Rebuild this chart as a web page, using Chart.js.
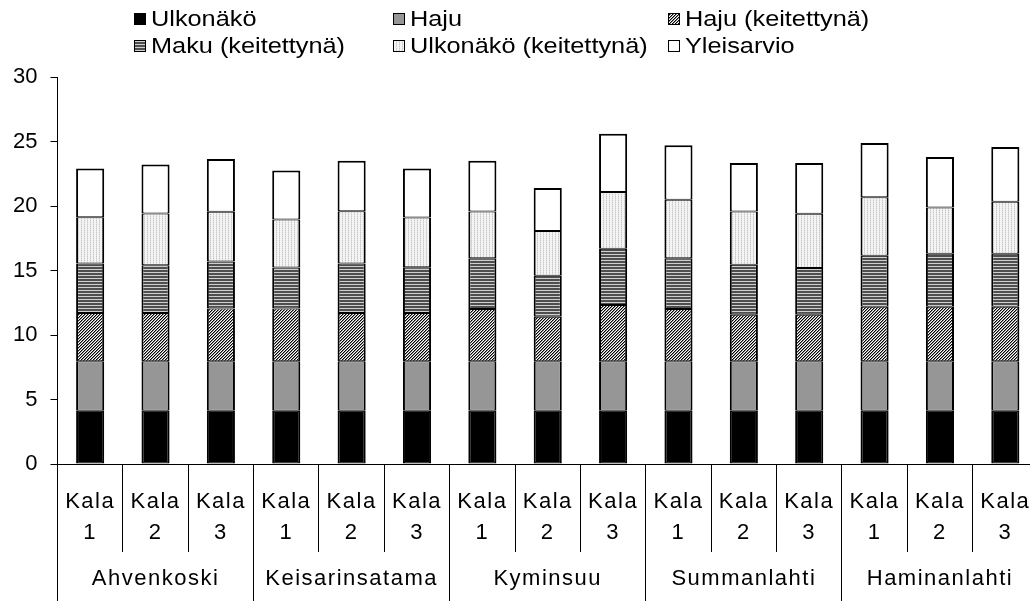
<!DOCTYPE html>
<html><head><meta charset="utf-8">
<script src="https://cdn.jsdelivr.net/npm/chart.js@4"></script>
<style>
html,body{margin:0;padding:0;overflow:hidden;background:#fff;width:1030px;height:601px}
#wrap{width:1040px;height:601px;}
</style></head><body><div id="wrap"><canvas id="c" width="1040" height="601"></canvas></div>
<script>
// ---- data ----
const groups = ['Ahvenkoski', 'Keisarinsatama', 'Kyminsuu', 'Summanlahti', 'Haminanlahti'];
const categories = [
  'Kala 1','Kala 2','Kala 3',
  'Kala 1','Kala 2','Kala 3',
  'Kala 1','Kala 2','Kala 3',
  'Kala 1','Kala 2','Kala 3',
  'Kala 1','Kala 2','Kala 3'
];
const seriesNames = ['Ulkonäkö', 'Haju', 'Haju (keitettynä)', 'Maku (keitettynä)', 'Ulkonäkö (keitettynä)', 'Yleisarvio'];
const ulkonako     = [4.13,4.13,4.13,4.13,4.13,4.13,4.13,4.13,4.13,4.13,4.13,4.13,4.13,4.13,4.13];
const haju         = [3.83,3.83,3.83,3.83,3.83,3.83,3.83,3.83,3.83,3.83,3.83,3.83,3.83,3.83,3.83];
const hajuKeit     = [3.75,3.75,4.10,4.10,3.75,3.75,4.06,3.46,4.37,4.05,3.61,3.61,4.23,4.23,4.23];
const makuKeit     = [3.83,3.70,3.64,3.18,3.83,3.54,3.92,3.18,4.36,3.94,3.88,3.63,3.96,4.11,4.11];
const ulkonakoKeit = [3.59,4.00,3.86,3.72,4.05,3.86,3.64,3.46,4.39,4.53,4.13,4.20,4.52,3.59,4.03];
const yleisarvio   = [3.78,3.80,4.08,3.80,3.92,3.80,3.93,3.34,4.52,4.23,3.75,3.93,4.21,3.91,4.24];
const yTicks = [0,5,10,15,20,25,30];

// ---- fills ----
function makePattern(w, h, draw) {
  const c = document.createElement('canvas'); c.width = w; c.height = h;
  const g = c.getContext('2d'); draw(g);
  return document.createElement('canvas').getContext('2d').createPattern(c, 'repeat');
}
const diagPat = makePattern(3, 3, g => {
  g.fillStyle = '#fff'; g.fillRect(0,0,3,3);
  for (let i = 0; i < 3; i++) {
    g.fillStyle = '#000'; g.fillRect(i, 2 - i, 1, 1);
    g.fillStyle = '#8a8a8a'; g.fillRect(i, (3 - i) % 3, 1, 1);
  }
});
const horizPat = makePattern(4, 3, g => {
  g.fillStyle = '#4e4e4e'; g.fillRect(0,0,4,2);
  g.fillStyle = '#cfcfcf'; g.fillRect(0,2,4,1);
});
const dotPat = makePattern(3, 2, g => {
  g.fillStyle = '#f4f4f4'; g.fillRect(0,0,3,2);
  g.fillStyle = '#c6c6c6'; g.fillRect(0,0,1,1);
  g.fillStyle = '#e0e0e0'; g.fillRect(0,1,1,1);
});
const fills = ['#000000', '#969696', diagPat, horizPat, dotPat, '#ffffff'];
const seriesData = [ulkonako, haju, hajuKeit, makuKeit, ulkonakoKeit, yleisarvio];

const FONT = "'Liberation Sans', Arial, sans-serif";

// custom legend in two rows / three columns
const legendPlugin = {
  id: 'gridLegend',
  afterDraw(chart) {
    const ctx = chart.ctx;
    const cols = [134, 393, 668];
    const rows = [13, 40];
    ctx.save();
    chart.data.datasets.forEach((ds, i) => {
      const x = cols[i % 3], y = rows[Math.floor(i / 3)];
      ctx.fillStyle = ds.backgroundColor;
      ctx.fillRect(x, y, 12, 12);
      ctx.strokeStyle = '#000'; ctx.lineWidth = 1;
      ctx.strokeRect(x + 0.5, y + 0.5, 11, 11);
      ctx.save();
      ctx.translate(x + 17, y + 6.5);
      ctx.scale(1.15, 1);
      ctx.fillStyle = '#000';
      ctx.font = '22px ' + FONT;
      ctx.textBaseline = 'middle';
      ctx.textAlign = 'left';
      ctx.fillText(ds.label, 0, 0);
      ctx.restore();
    });
    ctx.restore();
  }
};

// slightly wider lettering for the category axis labels
const spacingPlugin = {
  id: 'xLetterSpacing',
  afterLayout(chart) {
    const s = chart.scales.x;
    if (!s || s._spacedWrap) return;
    const orig = s.drawLabels.bind(s);
    s.drawLabels = function (area) {
      const ctx = chart.ctx;
      ctx.save();
      ctx.letterSpacing = '1.5px';
      orig(area);
      ctx.restore();
    };
    s._spacedWrap = true;
  }
};

const datasets = seriesData.map((d, i) => ({
  label: seriesNames[i],
  data: d,
  xAxisID: 'x',
  yAxisID: 'y',
  backgroundColor: fills[i],
  borderColor: '#000',
  borderWidth: {left: 2, right: 2, top: i === 5 ? 2 : 1, bottom: 1},
  borderSkipped: false,
  barPercentage: 0.43,
  categoryPercentage: 1.0
}));

Chart.defaults.font.family = FONT;
Chart.defaults.color = '#000';

new Chart(document.getElementById('c'), {
  type: 'bar',
  data: { labels: categories, datasets },
  options: {
    responsive: false,
    animation: false,
    devicePixelRatio: 1,
    layout: { padding: { top: 77, left: 0, right: 2, bottom: 0 } },
    plugins: { legend: { display: false }, tooltip: { enabled: false } },
    scales: {
      x: {
        stacked: true, weight: 0, position: 'bottom',
        grid: { offset: true, drawOnChartArea: false, tickLength: 88, color: '#000', lineWidth: 1 },
        border: { color: '#000', width: 1 },
        ticks: {
          color: '#000', font: { size: 22, lineHeight: 0.705 }, padding: -58,
          maxRotation: 0, minRotation: 0, autoSkip: false,
          callback: (v, i) => {
            const parts = categories[i].split(' ');
            return [parts[0], '', parts[1], '', '', i % 3 === 1 ? groups[(i - 1) / 3] : ''];
          }
        },
        afterFit: s => { s.height = 137; }
      },
      y: {
        stacked: true, min: 0, max: 30,
        afterBuildTicks: s => { s.ticks = yTicks.map(v => ({ value: v })); },
        ticks: { color: '#000', font: { size: 22 }, padding: 13 },
        grid: { drawOnChartArea: false, tickLength: 7, color: '#000', lineWidth: 1 },
        border: { color: '#000', width: 1 }
      },
      x2: {
        type: 'category', labels: groups, position: 'bottom', weight: -1, offset: true,
        grid: { offset: true, drawOnChartArea: false, tickLength: 137, color: '#000', lineWidth: 1 },
        border: { display: false },
        ticks: { display: false },
        afterFit: s => { s.height = 0; }
      }
    }
  },
  plugins: [legendPlugin, spacingPlugin]
});
</script></body></html>
